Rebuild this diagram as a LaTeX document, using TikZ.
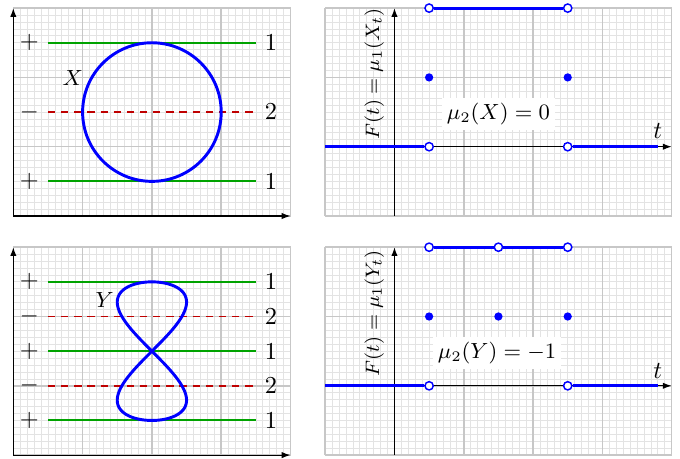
\documentclass[tikz,border=0pt]{standalone}
\usetikzlibrary{arrows.meta}
\begin{document}
\begin{tikzpicture}[
  minorgrid/.style={black!11, line width=0.3pt},
  majorgrid/.style={black!22, line width=0.6pt},
  axis/.style={black, line width=0.5pt, -{Latex[length=3.6pt,width=2.6pt]}},
  posline/.style={green!64!black, line width=0.8pt},
  negline/.style={red!75!black, line width=0.8pt, dash pattern=on 3pt off 2.4pt},
  bluecurve/.style={blue, line width=1.2pt},
  sidelab/.style={text=black, font=\fontsize{9.6}{11.5}\selectfont},
  namelab/.style={text=black, font=\fontsize{9}{11}\selectfont},
  mulab/.style={text=black, font=\fontsize{9.2}{11}\selectfont, fill=white, inner sep=2pt},
  flab/.style={text=black, font=\fontsize{8.1}{10}\selectfont, rotate=90},
  opendot/.style={circle, draw=blue, fill=white, line width=0.6pt, inner sep=0pt, minimum size=3.4pt},
  filldot/.style={circle, fill=blue, inner sep=0pt, minimum size=3.4pt},
]
\useasboundingbox (-0.192,-3.506) rectangle (9.62,3.117);

% ---------- top left ----------
\begin{scope}
  \draw[minorgrid] (0,0) grid[step=0.1] (4,3);
  \draw[majorgrid] (0,0) grid[step=1] (4,3);
  \coordinate (tlo) at (0,0);
  \coordinate (tlx) at (4,0);
  \coordinate (tly) at (0,3);
  \draw[axis] (tlo) -- (tlx);
  \draw[axis] (tlo) -- (tly);
  \draw[posline] (0.5,2.5) node[sidelab,left] (tlp1) {$+$} -- (3.5,2.5) node[sidelab,right] (tln1) {$1$};
  \draw[negline] (0.5,1.5) node[sidelab,left] (tlm1) {$-$} -- (3.5,1.5) node[sidelab,right] (tln2) {$2$};
  \draw[posline] (0.5,0.5) node[sidelab,left] (tlp2) {$+$} -- (3.5,0.5) node[sidelab,right] (tln3) {$1$};
  \draw[bluecurve] (2,1.5) circle[radius=1];
  \node[namelab] (xlab) at (0.86,1.99) {$X$};
\end{scope}

% ---------- top right ----------
\begin{scope}[shift={(5.5,1)}]
  \draw[minorgrid] (-1,-1) grid[step=0.1] (4,2);
  \draw[majorgrid] (-1,-1) grid[step=1] (4,2);
  \coordinate (trxa) at (-1,0);
  \coordinate (trxb) at (4,0);
  \coordinate (trya) at (0,-1);
  \coordinate (tryb) at (0,2);
  \draw[axis] (trxa) -- (trxb);
  \draw[axis] (trya) -- (tryb);
  \coordinate (trl0) at (-1,0);
  \coordinate (trr0) at (3.8,0);
  \node[opendot] (tra0) at (0.5,0) {};
  \node[opendot] (trb0) at (2.5,0) {};
  \node[opendot] (tra2) at (0.5,2) {};
  \node[opendot] (trb2) at (2.5,2) {};
  \draw[bluecurve] (trl0) -- (tra0.west);
  \draw[bluecurve] (trb0.east) -- (trr0);
  \draw[bluecurve] (tra2.east) -- (trb2.west);
  \node[filldot] (tra1) at (0.5,1) {};
  \node[filldot] (trb1) at (2.5,1) {};
  \node[sidelab] (trt) at (3.8,0.22) {$t$};
  \node[mulab] (trmu) at (1.5,0.47) {$\mu_2(X)=0$};
  \node[flab] (trf) at (-0.29,1.05) {$F(t)=\mu_1(X_t)$};
\end{scope}

% ---------- bottom left ----------
\begin{scope}[shift={(0,-3.45)}]
  \draw[minorgrid] (0,0) grid[step=0.1] (4,3);
  \draw[majorgrid] (0,0) grid[step=1] (4,3);
  \coordinate (blo) at (0,0);
  \coordinate (blx) at (4,0);
  \coordinate (bly) at (0,3);
  \draw[axis] (blo) -- (blx);
  \draw[axis] (blo) -- (bly);
  \draw[posline] (0.5,2.5) node[sidelab,left] (blp1) {$+$} -- (3.5,2.5) node[sidelab,right] (bln1) {$1$};
  \draw[negline] (0.5,2) node[sidelab,left] (blm1) {$-$} -- (3.5,2) node[sidelab,right] (bln2) {$2$};
  \draw[posline] (0.5,1.5) node[sidelab,left] (blp2) {$+$} -- (3.5,1.5) node[sidelab,right] (bln3) {$1$};
  \draw[negline] (0.5,1) node[sidelab,left] (blm2) {$-$} -- (3.5,1) node[sidelab,right] (bln4) {$2$};
  \draw[posline] (0.5,0.5) node[sidelab,left] (blp3) {$+$} -- (3.5,0.5) node[sidelab,right] (bln5) {$1$};
  \draw[bluecurve, line join=round] plot[domain=0:360, samples=181, smooth, variable=\t]
    ({2+0.5*sin(2*\t)}, {1.5+cos(\t)}) -- cycle;
  \node[namelab] (ylab) at (1.32,2.24) {$Y$};
\end{scope}

% ---------- bottom right ----------
\begin{scope}[shift={(5.5,-2.45)}]
  \draw[minorgrid] (-1,-1) grid[step=0.1] (4,2);
  \draw[majorgrid] (-1,-1) grid[step=1] (4,2);
  \coordinate (brxa) at (-1,0);
  \coordinate (brxb) at (4,0);
  \coordinate (brya) at (0,-1);
  \coordinate (bryb) at (0,2);
  \draw[axis] (brxa) -- (brxb);
  \draw[axis] (brya) -- (bryb);
  \coordinate (brl0) at (-1,0);
  \coordinate (brr0) at (3.8,0);
  \node[opendot] (bra0) at (0.5,0) {};
  \node[opendot] (brb0) at (2.5,0) {};
  \node[opendot] (bra2) at (0.5,2) {};
  \node[opendot] (brc2) at (1.5,2) {};
  \node[opendot] (brb2) at (2.5,2) {};
  \draw[bluecurve] (brl0) -- (bra0.west);
  \draw[bluecurve] (brb0.east) -- (brr0);
  \draw[bluecurve] (bra2.east) -- (brc2.west);
  \draw[bluecurve] (brc2.east) -- (brb2.west);
  \node[filldot] (bra1) at (0.5,1) {};
  \node[filldot] (brc1) at (1.5,1) {};
  \node[filldot] (brb1) at (2.5,1) {};
  \node[sidelab] (brt) at (3.8,0.22) {$t$};
  \node[mulab] (brmu) at (1.48,0.47) {$\mu_2(Y)=-1$};
  \node[flab] (brf) at (-0.29,1.05) {$F(t)=\mu_1(Y_t)$};
\end{scope}
\end{tikzpicture}
\end{document}
